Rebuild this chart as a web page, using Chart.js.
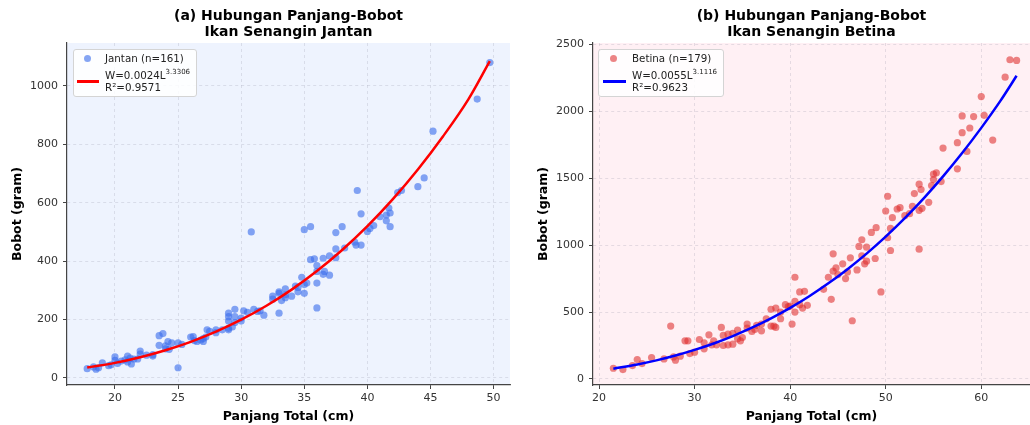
<!DOCTYPE html>
<html>
<head>
<meta charset="utf-8">
<script src="https://cdn.jsdelivr.net/npm/chart.js@4"></script>
<style>
  html, body { margin: 0; background: #fff; font-family: "DejaVu Sans", sans-serif; overflow: hidden; }
  #wrap { position: relative; width: 1030px; height: 425px; overflow: hidden; }
  .box { position: absolute; top: 0; height: 425px; }
  canvas { display: block; }
  .legend { position: absolute; height: 48px; background: rgba(255,255,255,0.85);
            border: 1px solid #d4d4d4; border-radius: 3px; font-size: 10.3px; color: #222; box-sizing: border-box; }
  .legend span, .legend i { position: absolute; white-space: nowrap; }
  .legend .dot { width: 7px; height: 7px; border-radius: 50%; }
  .legend .ln { height: 2.5px; }
  .legend sup { font-size: 7px; position: relative; top: -1px; vertical-align: super; line-height: 0; }
</style>
</head>
<body>
<div id="wrap">
  <div class="box" style="left:0; width:515px"><canvas id="chartA" width="515" height="425"></canvas></div>
  <div class="box" style="left:515px; width:520px"><canvas id="chartB" width="520" height="425"></canvas></div>
  <div class="legend" id="legA" style="left:73px; top:49px; width:124px;"></div>
  <div class="legend" id="legB" style="left:598px; top:49px; width:126px;"></div>
</div>
<script>
// Jantan (male) — panjang total (cm), bobot (gram)
const jantanL = [17.8, 18.3, 18.5, 18.7, 19.0, 19.5, 19.7, 20.0, 20.0, 20.2, 20.5, 20.8, 21.0, 21.0, 21.2, 21.3, 21.5, 21.8,
  22.0, 22.0, 22.5, 23.0, 23.0, 23.5, 23.5, 23.8, 24.0, 24.2, 24.3, 24.5, 25.0, 25.0, 25.3, 24.0,
  26.0, 26.2, 26.3, 26.5, 26.8, 27.0, 27.0, 27.2, 27.3, 27.5, 28.0, 28.0, 28.5, 29.0, 29.0, 29.0, 29.0, 29.0,
  29.5, 29.5, 29.5, 29.3, 30.0, 30.0, 30.2, 30.5, 30.8, 31.0, 31.3, 31.5, 31.8,
  32.5, 32.5, 33.0, 33.0, 33.0, 33.2, 33.5, 33.5, 33.5, 34.0, 34.3, 34.5, 34.5, 34.8, 35.0, 35.0, 35.2, 35.0,
  35.5, 35.5, 35.8, 36.0, 36.0, 36.0, 36.0, 36.5, 36.5, 36.6, 37.0, 37.0, 37.5, 37.5, 37.5, 38.0, 38.2,
  39.0, 39.1, 39.2, 39.5, 39.5, 40.0, 40.2, 40.5, 41.0, 41.5, 41.5, 41.7, 41.8, 41.8, 42.4, 42.7,
  44.0, 44.5, 45.2, 48.7, 49.7];
const jantanW = [32, 38, 30, 35, 52, 42, 45, 72, 60, 50, 58, 62, 75, 55, 68, 48, 65, 65,
  92, 82, 78, 80, 75, 145, 112, 152, 110, 125, 98, 120, 120, 35, 115, 100,
  140, 142, 128, 125, 130, 125, 135, 140, 165, 160, 165, 155, 165, 222, 210, 195, 170, 165,
  235, 210, 190, 175, 205, 195, 230, 225, 500, 235, 228, 230, 215,
  280, 270, 295, 290, 222, 265, 305, 285, 275, 280, 315, 310, 295, 345, 320, 290, 325, 508,
  518, 405, 408, 385, 365, 325, 240, 410, 355, 365, 418, 352, 498, 442, 412, 518, 445,
  465, 455, 642, 562, 455, 502, 512, 522, 552, 558, 538, 582, 565, 518, 635, 642,
  655, 685, 845, 955, 1080];

// Betina (female)
const betinaL = [21.5, 22.5, 23.5, 24.0, 24.5, 25.5, 26.8, 27.5, 27.8, 28.0, 28.5, 29.0, 29.3, 29.5, 30.0, 30.5,
  31.0, 31.0, 31.5, 31.8, 32.0, 32.3, 32.8, 33.0, 33.0, 33.5, 33.5, 34.0, 34.0, 34.5, 34.5, 34.8, 35.0,
  35.5, 35.5, 36.0, 36.3, 36.5, 37.0, 37.0, 37.5, 38.0, 38.0, 38.3, 38.5, 38.5, 39.0, 39.0, 39.5, 39.8,
  40.0, 40.2, 40.5, 40.5, 40.5, 41.0, 41.0, 41.3, 41.5, 41.8,
  43.5, 44.0, 44.3, 44.5, 44.5, 44.8, 45.0, 45.5, 45.8, 46.0, 46.3, 46.5, 47.0, 47.2, 47.5, 47.5, 47.8,
  48.0, 48.0, 48.5, 48.9, 49.0, 49.5, 50.0, 50.2, 50.2, 50.5, 50.5, 50.7, 51.2, 51.5, 52.0, 52.5, 52.8,
  53.0, 53.5, 53.5, 53.5, 53.7, 53.8, 54.5, 54.8, 55.0, 55.0, 55.3, 55.8, 56.0, 57.5, 57.5, 58.0, 58.0,
  58.5, 58.8, 59.2, 60.0, 60.3, 61.2, 62.5, 63.0, 63.7];
const betinaW = [80, 70, 100, 145, 115, 160, 150, 395, 165, 140, 170, 285, 285, 190, 200, 295,
  270, 225, 330, 255, 285, 255, 385, 325, 250, 335, 255, 340, 260, 365, 300, 285, 310,
  410, 380, 355, 370, 400, 410, 360, 450, 520, 395, 395, 530, 385, 450, 500, 555, 540,
  545, 410, 760, 580, 500, 650, 555, 530, 655, 550,
  670, 760, 595, 935, 805, 830, 780, 860, 750, 800, 905, 435, 815, 990, 1040, 920, 860,
  985, 880, 1095, 900, 1130, 650, 1255, 1365, 1055, 1125, 960, 1205, 1270, 1280, 1220, 1235, 1290,
  1385, 1455, 1260, 970, 1415, 1275, 1320, 1445, 1530, 1490, 1540, 1475, 1725, 1765, 1570, 1965, 1840,
  1700, 1875, 1960, 2110, 1970, 1785, 2255, 2385, 2380];

// fitted curves W = aL^b, sampled
const fitJantanL = [17.8, 20, 22, 24, 26, 28, 30, 32, 34, 36, 38, 40, 42, 44, 46, 48, 49.7];
const fitJantanW = [35.6, 51.7, 71.0, 94.9, 123.9, 158.6, 199.5, 247.3, 302.6, 366.0, 438.2, 519.9, 611.6, 714.0, 827.8, 954.0, 1085];
const fitBetinaL = [21.5, 24, 26, 28, 30, 32, 34, 36, 38, 40, 42, 44, 46, 48, 50, 52, 54, 56, 58, 60, 62, 63.7];
const fitBetinaW = [77.0, 108.4, 139.0, 175.1, 217.1, 265.3, 320.5, 382.8, 452.9, 531.1, 618.2, 714.4, 820.4, 936.6,
  1063.5, 1201.5, 1351.6, 1513.9, 1688.1, 1875.9, 2077.4, 2265];

const xTicksA = [20, 25, 30, 35, 40, 45, 50];
const yTicksA = [0, 200, 400, 600, 800, 1000];
const xTicksB = [20, 30, 40, 50, 60];
const yTicksB = [0, 500, 1000, 1500, 2000, 2500];

const FONT = "'DejaVu Sans', sans-serif";

function toPoints(xs, ys) {
  return xs.map((x, i) => ({ x: x, y: ys[i] }));
}

const panelPlugin = {
  id: "panel",
  beforeDraw(chart, args, opts) {
    const a = chart.chartArea;
    const ctx = chart.ctx;
    ctx.save();
    ctx.fillStyle = opts.bg;
    ctx.fillRect(a.left, a.top, a.right - a.left, a.bottom - a.top);
    ctx.restore();
  },
  afterDraw(chart, args, opts) {
    const a = chart.chartArea;
    const ctx = chart.ctx;
    ctx.save();
    ctx.fillStyle = "#000";
    ctx.font = "bold 14px " + FONT;
    ctx.textAlign = "center";
    ctx.textBaseline = "middle";
    const cx = (a.left + a.right) / 2;
    ctx.fillText(opts.title[0], cx, 16);
    ctx.fillText(opts.title[1], cx, 32);
    ctx.restore();
  },
};

function axis(min, max, tickValues, label, fixed, titlePad, horizontal) {
  return {
    type: "linear",
    min: min,
    max: max,
    afterBuildTicks: (s) => { s.ticks = tickValues.map((v) => ({ value: v })); },
    afterFit: (s) => { if (horizontal) s.height = fixed; else s.width = fixed; },
    ticks: {
      font: { family: FONT, size: 11 }, color: "#333", padding: horizontal ? 3 : 5,
      callback: (v) => String(v),
    },
    grid: { color: "rgba(150,150,170,0.3)", lineWidth: 0.8, tickColor: "#444", tickLength: 4, tickWidth: 1 },
    border: { color: "#444", width: 1.2, dash: [3, 3] },
    title: {
      display: true, text: label, color: "#000",
      font: { family: FONT, size: 12.5, weight: "bold" },
      padding: titlePad,
    },
  };
}

function makeChart(id, cfg) {
  return new Chart(document.getElementById(id), {
    type: "scatter",
    data: {
      datasets: [
        {
          data: toPoints(cfg.fitL, cfg.fitW),
          showLine: true,
          pointRadius: 0,
          borderColor: cfg.lineColor,
          borderWidth: 2.5,
          cubicInterpolationMode: "monotone",
          order: 1,
        },
        {
          data: toPoints(cfg.L, cfg.W),
          pointRadius: 3.6,
          pointBackgroundColor: cfg.dotColor,
          pointBorderWidth: 0,
          order: 2,
        },
      ],
    },
    options: {
      responsive: false,
      animation: false,
      devicePixelRatio: 1,
      layout: { padding: { top: 43, right: cfg.padRight, left: 0, bottom: 0 } },
      scales: {
        x: axis(cfg.xMin, cfg.xMax, cfg.xTicks, "Panjang Total (cm)", 40, { top: 0, bottom: 1 }, true),
        y: axis(cfg.yMin, cfg.yMax, cfg.yTicks, "Bobot (gram)", cfg.yWidth, { top: cfg.yTitlePad, bottom: 0 }, false),
      },
      plugins: {
        legend: { display: false },
        tooltip: { enabled: false },
        panel: { bg: cfg.bg, title: cfg.title },
      },
    },
    plugins: [panelPlugin],
  });
}

makeChart("chartA", {
  L: jantanL, W: jantanW, fitL: fitJantanL, fitW: fitJantanW,
  lineColor: "#ff0000", dotColor: "rgba(60,110,235,0.62)", bg: "#eef3fe",
  xMin: 16.2, xMax: 51.3, yMin: -24, yMax: 1147, xTicks: xTicksA, yTicks: yTicksA,
  yWidth: 67, yTitlePad: 10, padRight: 5,
  title: ["(a) Hubungan Panjang-Bobot", "Ikan Senangin Jantan"],
});

// canvas is 5px wider than its slot, the overflow is cut off so the panel reaches the edge
makeChart("chartB", {
  L: betinaL, W: betinaW, fitL: fitBetinaL, fitW: fitBetinaW,
  lineColor: "#0000ff", dotColor: "rgba(222,45,45,0.58)", bg: "#fff0f4",
  xMin: 19.37, xMax: 65.1, yMin: -45, yMax: 2510, xTicks: xTicksB, yTicks: yTicksB,
  yWidth: 78, yTitlePad: 21.5, padRight: 5,
  title: ["(b) Hubungan Panjang-Bobot", "Ikan Senangin Betina"],
});

function legend(id, label, a, b, r2, dotColor, lineColor, dotX, textX, lineX, lineW) {
  const el = document.getElementById(id);
  el.innerHTML =
    `<i class="dot" style="left:${dotX - 4}px; top:5px; background:${dotColor}"></i>` +
    `<span style="left:${textX}px; top:2px">${label}</span>` +
    `<i class="ln" style="left:${lineX}px; top:30px; width:${lineW}px; background:${lineColor}"></i>` +
    `<span style="left:${textX}px; top:19px">W=${a}L<sup>${b}</sup></span>` +
    `<span style="left:${textX}px; top:31px">R²=${r2}</span>`;
}

legend("legA", "Jantan (n=161)", "0.0024", "3.3306", "0.9571", "rgba(60,110,235,0.62)", "#ff0000", 14, 31, 3, 22);
legend("legB", "Betina (n=179)", "0.0055", "3.1116", "0.9623", "rgba(222,45,45,0.58)", "#0000ff", 15, 33, 4, 23);
</script>
</body>
</html>
